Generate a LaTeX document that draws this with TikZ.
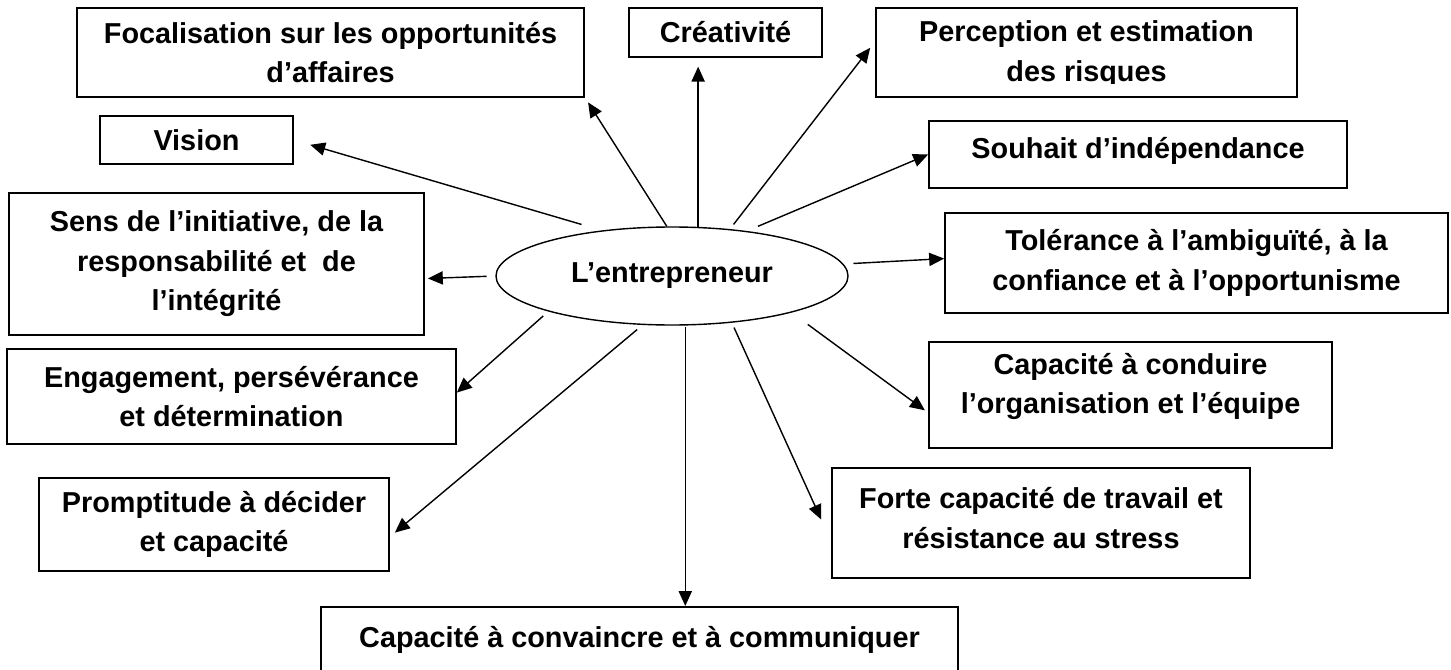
\documentclass[tikz,border=0pt]{standalone}
\usepackage{fontspec}
\setmainfont{Liberation Sans}
\usepackage{trimclip}
\usetikzlibrary{positioning,arrows.meta,shapes.geometric}

\begin{document}
\begin{tikzpicture}[
  box/.style={draw, line width=1pt, align=center, inner sep=2pt,
              font=\bfseries\fontsize{16.4}{22.5}\selectfont},
  hub/.style={draw, ellipse, line width=0.8pt, inner sep=0pt,
              minimum width=7.04cm, minimum height=1.96cm,
              font=\bfseries\fontsize{16.4}{22.5}\selectfont},
  ar/.style={-{Triangle[length=8.5pt,width=7.5pt]}, line width=0.8pt},
]
\useasboundingbox (0,0) rectangle (29.02,-13.4);

\node[hub] (ent) at (13.44,-5.52) {L’entrepreneur};

% top row
\node[box, minimum width=10.14cm, minimum height=1.78cm] (foc) at (6.61,-1.05)
  {Focalisation sur les opportunités\\d’affaires};
\node[box, minimum width=3.86cm, minimum height=0.98cm] (cre) at (14.51,-0.65)
  {Créativité};
\node[box, minimum width=8.42cm, minimum height=1.78cm] (perc) at (21.73,-1.05)
  {Perception et estimation\\\clipbox{0pt 2pt 0pt 0pt}{des risques}};

% left side
\node[box, minimum width=3.86cm, minimum height=0.96cm] (vis) at (3.93,-2.8)
  {Vision};
\node[box, minimum width=8.30cm, minimum height=2.84cm] (sens) at (4.33,-5.28)
  {Sens de l’initiative, de la\\responsabilité et\ \ de\\l’intégrité};
\node[box, minimum width=8.98cm, minimum height=1.90cm] (eng) at (4.63,-7.93)
  {Engagement, persévérance\\et détermination};
\node[box, minimum width=7.0cm, minimum height=1.86cm] (prom) at (4.28,-10.49)
  {Promptitude à décider\\et capacité};

% right side (text sits a little high in these)
\node[box, minimum width=8.36cm, minimum height=1.34cm, text depth=0.28cm] (souh) at (22.76,-3.09)
  {Souhait d’indépendance};
\node[box, minimum width=10.06cm, minimum height=2.0cm] (tol) at (23.93,-5.26)
  {Tolérance à l’ambiguïté, à la\\confiance et à l’opportunisme};
\node[box, minimum width=8.06cm, minimum height=2.12cm, text depth=0.46cm] (cond) at (22.61,-7.9)
  {Capacité à conduire\\l’organisation et l’équipe};
\node[box, minimum width=8.36cm, minimum height=2.2cm, text depth=0.2cm] (forte) at (20.82,-10.46)
  {Forte capacité de travail et\\résistance au stress};

% bottom, runs past the lower edge
\node[box, anchor=north, minimum width=12.74cm, inner ysep=0.2cm,
      text height=0.62cm, text depth=1.2cm] (conv) at (12.79,-12.12)
  {Capacité à convaincre et à communiquer};

\draw[ar, shorten <=12pt, shorten >=9.7pt] (ent.147) -- (vis.east);
\draw[ar, shorten >=3.4pt] (ent.96) -- (foc.-10);
\draw[ar, shorten >=5pt] (ent.62) -- (ent.62 |- cre.south);
\draw[ar, shorten <=3.3pt, shorten >=4.6pt] (ent.39) -- (perc.177);
\draw[ar, shorten <=6.8pt] (ent.31) -- (souh.west);
\draw[ar, shorten <=5.7pt] (ent.4) -- (tol.179);
\draw[ar, shorten <=11.4pt, shorten >=2.3pt] (ent.-17) -- (cond.185);
\draw[ar, shorten <=3pt, shorten >=13.6pt] (ent.-38) -- (forte.185);
\draw[ar, shorten <=1pt] (ent.-75) -- (ent.-75 |- conv.north);
\draw[ar, shorten <=4pt, shorten >=3.7pt] (ent.-121) -- (prom.-4);
\draw[ar, shorten <=3.8pt] (ent.-164) -- (eng.1);
\draw[ar, shorten <=5pt, shorten >=1.7pt] (ent.west) -- (sens.-4);

\end{tikzpicture}
\end{document}
